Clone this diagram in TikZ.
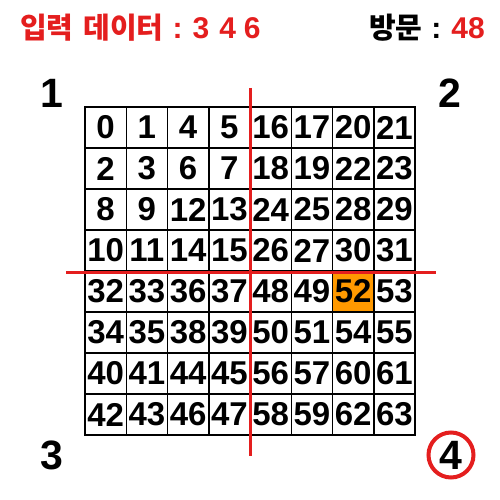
\documentclass[tikz,border=0pt]{standalone}
\usepackage{fontspec}
\setmainfont{Liberation Sans}
\newfontfamily\krfont{Noto Sans CJK KR}
\usepackage{xcolor}
\usepackage{tikz}

\definecolor{hitorange}{HTML}{FF9900}
\definecolor{cutred}{HTML}{E41E1E}

\begin{document}
\begin{tikzpicture}[
                        x=1pt,y=-1pt,
                        cell/.style={
                                draw,
                                line width=1.5pt,
                                minimum width=41.25pt,
                                minimum height=41pt,
                                inner sep=0pt,
                                font=\fontsize{33}{33}\selectfont\bfseries,
                            },
                        corner/.style={font=\fontsize{41}{41}\selectfont\bfseries},
                        cutline/.style={cutred,line width=3pt},
                        header/.style={inner sep=0pt,font=\fontsize{30}{30}\selectfont\bfseries},
                    ]

                    \useasboundingbox (0,0) rectangle (500,500);

                    % header
                    \node[header,anchor=base west,text=cutred] (input) at (20,39)
                        {{\krfont\fontsize{29}{29}\selectfont 입력}\hspace{10pt}{\krfont\fontsize{29}{29}\selectfont 데이터}\hspace{9pt}:\hspace{10pt}3\hspace{10pt}4\hspace{8pt}6};
                    \node[header,anchor=base east] (visit) at (485,39)
                        {{\krfont\fontsize{29}{29}\selectfont 방문}\hspace{9pt}:\hspace{10pt}\textcolor{cutred}{48}};

                    % z-order grid
                    \foreach \row [count=\r from 0] in {
                            {0,1,4,5,16,17,20,21},
                            {2,3,6,7,18,19,22,23},
                            {8,9,12,13,24,25,28,29},
                            {10,11,14,15,26,27,30,31},
                            {32,33,36,37,48,49,52,53},
                            {34,35,38,39,50,51,54,55},
                            {40,41,44,45,56,57,60,61},
                            {42,43,46,47,58,59,62,63}}{
                            \foreach \v [count=\c from 0] in \row {
                                    \ifnum\v=52 \def\cellfill{hitorange}\else\def\cellfill{white}\fi
                                    \node[cell,fill=\cellfill] (c\v) at ({85+41.25*(\c+0.5)},{107+41*(\r+0.5)}) {\v};
                                }
                        }

                    % quadrant cuts
                    \coordinate (vtop) at (250,88);
                    \coordinate (vbot) at (250,456);
                    \coordinate (hleft) at (66,272);
                    \coordinate (hright) at (436,272);
                    \draw[cutline] (vtop) -- (vbot);
                    \draw[cutline] (hleft) -- (hright);

                    % quadrant numbers
                    \node[corner] (q1) at (52,93) {1};
                    \node[corner] (q2) at (450,93) {2};
                    \node[corner] (q3) at (52,455) {3};
                    \node[corner,circle,draw=cutred,line width=4pt,inner sep=0pt,minimum size=45pt] (q4) at (451,455) {4};
                \end{tikzpicture}
\end{document}
